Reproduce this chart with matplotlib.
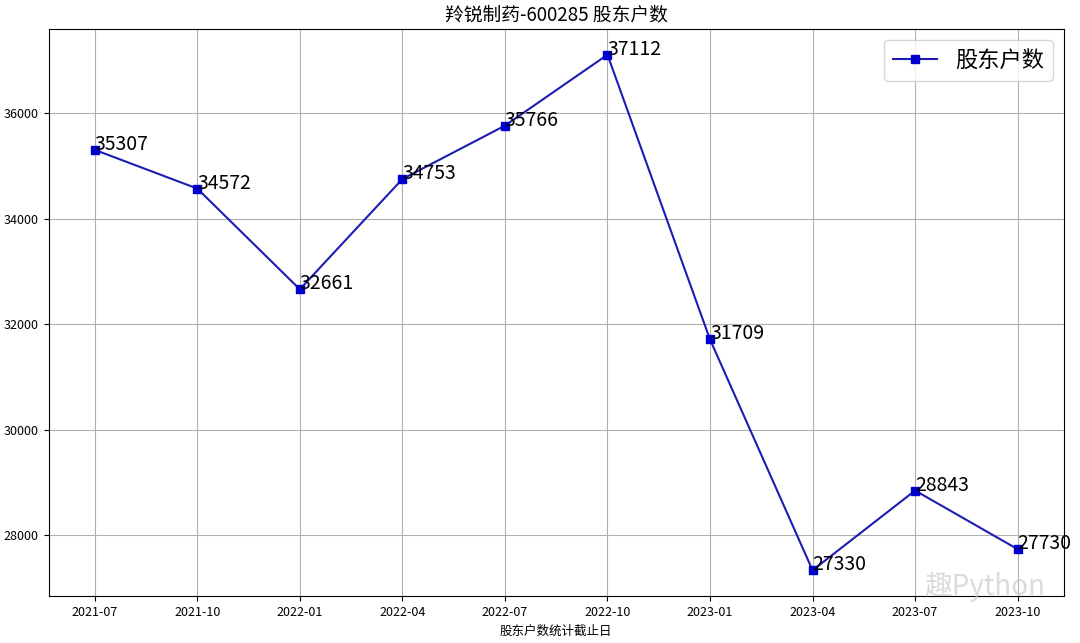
import matplotlib
matplotlib.use("Agg")
import matplotlib.pyplot as plt

plt.rcParams['font.family'] = ['Noto Sans CJK SC', 'DejaVu Sans']
plt.rcParams['axes.unicode_minus'] = False

dates = ["2021-07", "2021-10", "2022-01", "2022-04", "2022-07",
         "2022-10", "2023-01", "2023-04", "2023-07", "2023-10"]
holders = [35307, 34572, 32661, 34753, 35766, 37112, 31709, 27330, 28843, 27730]

fig, ax = plt.subplots(figsize=(10.8, 6.43), dpi=100)
ax.plot(dates, holders, color='#1c1cb4', marker='s', markersize=6,
        markerfacecolor='mediumblue', markeredgecolor='mediumblue',
        linewidth=1.5, label='股东户数')

# value labels at each point
for x, y in zip(dates, holders):
    ax.text(x, y, str(y), fontsize=14)

ax.set_title('羚锐制药-600285 股东户数', fontsize=13.5)
ax.set_xlabel('股东户数统计截止日', fontsize=9)
ax.tick_params(labelsize=9)
ax.grid(True)
ax.legend(loc='upper right', fontsize=16)

# watermark
fig.text(0.912, 0.088, '趣Python', fontsize=20, color='#cccccc', alpha=0.7,
         ha='center', va='center')

fig.subplots_adjust(left=0.045, right=0.985, top=0.955, bottom=0.073)
fig.savefig('out.png', dpi=100)
